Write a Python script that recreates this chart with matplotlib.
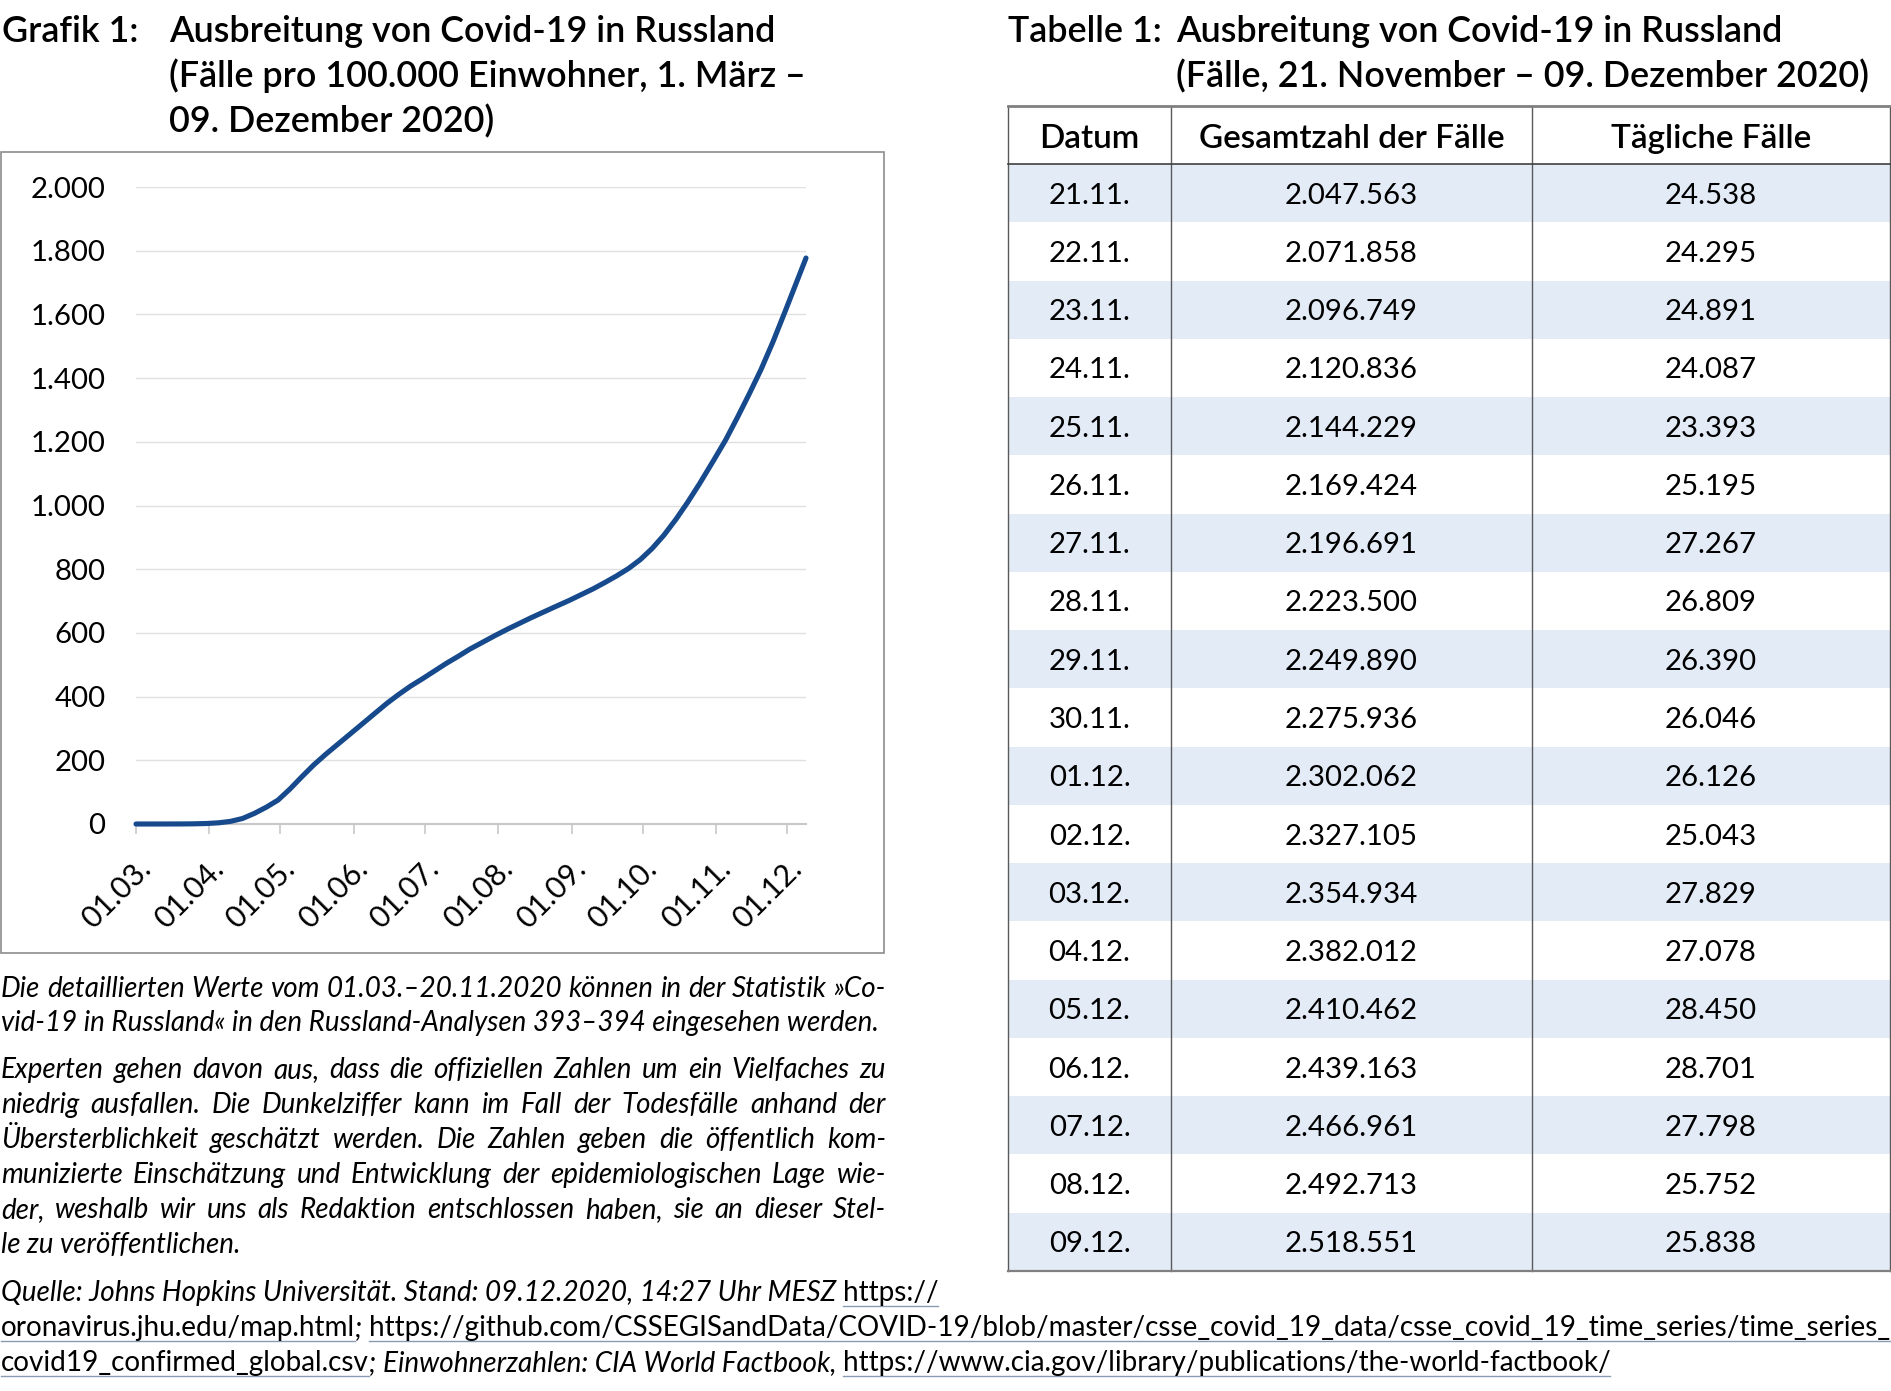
import datetime as dt
import matplotlib
matplotlib.use('Agg')
import matplotlib.pyplot as plt
from matplotlib import font_manager
from matplotlib.font_manager import FontProperties
from matplotlib.patches import Rectangle
from matplotlib.lines import Line2D

# ---------------- data ----------------
curve_dates = ["2020-03-01", "2020-03-10", "2020-03-20", "2020-03-25", "2020-03-31",
               "2020-04-05", "2020-04-10", "2020-04-15", "2020-04-20", "2020-04-25",
               "2020-04-30", "2020-05-05", "2020-05-10", "2020-05-15", "2020-05-20",
               "2020-05-25", "2020-05-31", "2020-06-05", "2020-06-10", "2020-06-15",
               "2020-06-20", "2020-06-25", "2020-06-30", "2020-07-05", "2020-07-10",
               "2020-07-15", "2020-07-20", "2020-07-25", "2020-07-31", "2020-08-05",
               "2020-08-10", "2020-08-15", "2020-08-20", "2020-08-25", "2020-08-31",
               "2020-09-05", "2020-09-10", "2020-09-15", "2020-09-20", "2020-09-25",
               "2020-09-30", "2020-10-05", "2020-10-10", "2020-10-15", "2020-10-20",
               "2020-10-25", "2020-10-31", "2020-11-05", "2020-11-10", "2020-11-15",
               "2020-11-20", "2020-11-25", "2020-11-30", "2020-12-05", "2020-12-09"]
cases_per_100k = [0.0, 0.0, 0.2, 0.5, 1.6,
                  3.8, 8.4, 17.3, 33.3, 52.6,
                  75.1, 109.6, 148, 185, 218,
                  249, 286, 317, 348, 379,
                  407, 433, 456, 480, 504,
                  526, 549, 569, 593, 612,
                  630, 648, 665, 682, 702,
                  720, 738, 758, 779, 802,
                  830, 865, 907, 956, 1010,
                  1068, 1142, 1205, 1276, 1350,
                  1427, 1513, 1606, 1701, 1777]
y_ticks = [0, 200, 400, 600, 800, 1000, 1200, 1400, 1600, 1800, 2000]
x_tick_dates = ["2020-03-01", "2020-04-01", "2020-05-01", "2020-06-01", "2020-07-01",
                "2020-08-01", "2020-09-01", "2020-10-01", "2020-11-01", "2020-12-01"]
x_tick_labels = ["01.03.", "01.04.", "01.05.", "01.06.", "01.07.",
                 "01.08.", "01.09.", "01.10.", "01.11.", "01.12."]

table_header = ["Datum", "Gesamtzahl der Fälle", "Tägliche Fälle"]
table_dates = ["21.11.", "22.11.", "23.11.", "24.11.", "25.11.", "26.11.", "27.11.",
               "28.11.", "29.11.", "30.11.", "01.12.", "02.12.", "03.12.", "04.12.",
               "05.12.", "06.12.", "07.12.", "08.12.", "09.12."]
table_total = ["2.047.563", "2.071.858", "2.096.749", "2.120.836", "2.144.229",
               "2.169.424", "2.196.691", "2.223.500", "2.249.890", "2.275.936",
               "2.302.062", "2.327.105", "2.354.934", "2.382.012", "2.410.462",
               "2.439.163", "2.466.961", "2.492.713", "2.518.551"]
table_daily = ["24.538", "24.295", "24.891", "24.087", "23.393", "25.195", "27.267",
               "26.809", "26.390", "26.046", "26.126", "25.043", "27.829", "27.078",
               "28.450", "28.701", "27.798", "25.752", "25.838"]

chart_title = ["Ausbreitung von Covid-19 in Russland",
               "(Fälle pro 100.000 Einwohner, 1. März –",
               "09. Dezember 2020)"]
table_title = ["Ausbreitung von Covid-19 in Russland",
               "(Fälle, 21. November – 09. Dezember 2020)"]
note_lines = [
    ("Die detaillierten Werte vom 01.03.–20.11.2020 können in der Statistik »Co-", True),
    ("vid-19 in Russland« in den Russland-Analysen 393–394 eingesehen werden.", False),
    ("Experten gehen davon aus, dass die offiziellen Zahlen um ein Vielfaches zu", True),
    ("niedrig ausfallen. Die Dunkelziffer kann im Fall der Todesfälle anhand der", True),
    ("Übersterblichkeit geschätzt werden. Die Zahlen geben die öffentlich kom-", True),
    ("munizierte Einschätzung und Entwicklung der epidemiologischen Lage wie-", True),
    ("der, weshalb wir uns als Redaktion entschlossen haben, sie an dieser Stel-", True),
    ("le zu veröffentlichen.", False),
]
source_lines = [
    [("Quelle: Johns Hopkins Universität. Stand: 09.12.2020, 14:27 Uhr MESZ", "italic", False),
     (" ", "italic", False), ("https://", "normal", True)],
    [("oronavirus.jhu.edu/map.html", "normal", True), (";", "italic", False), (" ", "italic", False),
     ("https://github.com/CSSEGISandData/COVID-19/blob/master/csse_covid_19_data/csse_covid_19_time_series/time_series_", "normal", True)],
    [("covid19_confirmed_global.csv", "normal", True), (";", "italic", False), (" ", "italic", False),
     ("Einwohnerzahlen: CIA World Factbook,", "italic", False), (" ", "italic", False),
     ("https://www.cia.gov/library/publications/the-world-factbook/", "normal", True)],
]

# ---------------- setup ----------------
W, H = 1891, 1391
names = {f.name for f in font_manager.fontManager.ttflist}
MAIN = 'Lato' if 'Lato' in names else 'DejaVu Sans'
plt.rcParams['font.family'] = [MAIN, 'DejaVu Sans']


def find_condensed(styles):
    prefs = ['Liberation Sans Narrow', 'Noto Sans', 'Open Sans', 'Roboto', 'Lato']
    for fam in prefs:
        for f in font_manager.fontManager.ttflist:
            if (f.name == fam and f.style in styles
                    and f.stretch in ('condensed', 'semi-condensed')
                    and f.weight in (400, 'normal', 'regular', 'book')):
                return f.fname
    return None


fn_it = find_condensed(('italic',))
fn_up = find_condensed(('normal',))
if fn_it and fn_up:
    italic_kw = dict(fontproperties=FontProperties(fname=fn_it))
    upright_kw = dict(fontproperties=FontProperties(fname=fn_up))
else:
    italic_kw = dict(family=[MAIN, 'DejaVu Sans'], style='italic')
    upright_kw = dict(family=[MAIN, 'DejaVu Sans'], style='normal')
style_kw = {'italic': italic_kw, 'normal': upright_kw}

fig = plt.figure(figsize=(W / 100, H / 100), dpi=100)
fig.patch.set_facecolor('white')
renderer = fig.canvas.get_renderer()

LINE_COLOR = '#174A8C'
ROW_BLUE = '#E3EBF6'


def T(x, y, s, **kw):
    return fig.text(x / W, 1 - y / H, s, **kw)


def measure(s, size, **kw):
    t = fig.text(0, 0, s, fontsize=size, **kw)
    w = t.get_window_extent(renderer).width
    t.remove()
    return w


def fit(s, target, **kw):
    return 20.0 * target / measure(s, 20.0, **kw)


# font sizes fitted to widths measured on the reference
title_kw = dict(family=[MAIN, 'DejaVu Sans'], weight='semibold')
fs_title = (fit(chart_title[0], 615, **title_kw) + fit(chart_title[1], 633, **title_kw)
            + fit(table_title[1], 687, **title_kw)) / 3
fs_head = fit(table_header[1], 306, **title_kw)
fs_body = fit(table_total[0], 133, family=[MAIN, 'DejaVu Sans'])
fs_tick = fit("2.000", 75, family=[MAIN, 'DejaVu Sans'])
fs_note = min(fit(s, 884, **italic_kw) for s, j in note_lines if j)

# ---------------- titles ----------------
for i, yb in enumerate([42, 87, 132]):
    T(169, yb, chart_title[i], fontsize=fs_title, va='baseline', **title_kw)
T(2, 42, "Grafik 1:", fontsize=fs_title, va='baseline', **title_kw)
T(1008, 42, "Tabelle 1:", fontsize=fs_title, va='baseline', **title_kw)
for i, yb in enumerate([42, 87]):
    T(1176, yb, table_title[i], fontsize=fs_title, va='baseline', **title_kw)

# ---------------- chart ----------------
fig.add_artist(Rectangle((1 / W, 1 - 953 / H), 883 / W, (953 - 152) / H,
                         transform=fig.transFigure, fill=False, ec='#8C8C8C', lw=1.2))
ax = fig.add_axes([136 / W, 1 - 824 / H, (806 - 136) / W, (824 - 187) / H])
xd = [dt.datetime.strptime(d, "%Y-%m-%d") for d in curve_dates]
ax.plot(xd, cases_per_100k, color=LINE_COLOR, lw=3.7, solid_capstyle='round',
        solid_joinstyle='round', zorder=3, clip_on=False)
ax.set_xlim(dt.datetime(2020, 3, 1), dt.datetime(2020, 12, 9))
ax.set_ylim(0, 2000)
ax.set_yticks(y_ticks)
ax.set_yticklabels([f"{v:,}".replace(',', '.') for v in y_ticks], fontsize=fs_tick)
ax.yaxis.grid(True, color='#E0E0E0', lw=1.0)
ax.set_axisbelow(True)
for s in ['top', 'right', 'left']:
    ax.spines[s].set_visible(False)
ax.spines['bottom'].set_color('#C8C8C8')
ax.spines['bottom'].set_linewidth(1.5)
ax.tick_params(axis='y', length=0, pad=22)
ax.set_xticks([dt.datetime.strptime(d, "%Y-%m-%d") for d in x_tick_dates])
ax.set_xticklabels(x_tick_labels, fontsize=fs_tick * 1.03, rotation=45, ha='right', va='top',
                   rotation_mode='anchor')
ax.tick_params(axis='x', length=7, width=1.2, color='#C8C8C8', pad=15)
ax.set_facecolor('none')

# ---------------- table ----------------
cols = [1008, 1171, 1532, 1890]
t_top, h_bot, t_bot = 106, 164, 1271
rh = (t_bot - h_bot) / len(table_dates)
for i in range(len(table_dates)):
    y0 = h_bot + i * rh
    if i % 2 == 0:
        fig.add_artist(Rectangle((cols[0] / W, 1 - (y0 + rh) / H), (cols[-1] - cols[0]) / W, rh / H,
                                 transform=fig.transFigure, fc=ROW_BLUE, ec='none', zorder=0))
    yc = y0 + rh / 2
    for j, val in enumerate([table_dates[i], table_total[i], table_daily[i]]):
        T((cols[j] + cols[j + 1]) / 2, yc, val, fontsize=fs_body, ha='center',
          va='center_baseline')
for j, hd in enumerate(table_header):
    T((cols[j] + cols[j + 1]) / 2, (t_top + h_bot) / 2 + 1, hd, fontsize=fs_head, ha='center',
      va='center_baseline', **title_kw)


def hline(y, x0, x1, color, lw):
    fig.add_artist(Line2D([x0 / W, x1 / W], [1 - y / H] * 2, transform=fig.transFigure,
                          color=color, lw=lw, zorder=2))


def vline(x, y0, y1, color, lw):
    fig.add_artist(Line2D([x / W] * 2, [1 - y0 / H, 1 - y1 / H], transform=fig.transFigure,
                          color=color, lw=lw, zorder=2))


for x in cols:
    vline(x, t_top, t_bot, '#5A5A5A', 1.0)
hline(t_top, cols[0], cols[-1], '#808080', 2.0)
hline(h_bot, cols[0], cols[-1], '#404040', 1.2)
hline(t_bot, cols[0], cols[-1], '#808080', 1.6)

# ---------------- notes ----------------
note_base = [997, 1031, 1078, 1113, 1148, 1183, 1218, 1253]


def justify(y, line, size, width, x0=1, **kw):
    words = line.split(' ')
    ws = [measure(w, size, **kw) for w in words]
    gap = (width - sum(ws)) / (len(words) - 1)
    x = x0
    for w, wd in zip(words, ws):
        T(x, y, w, fontsize=size, va='baseline', **kw)
        x += wd + gap


for (line, just), yb in zip(note_lines, note_base):
    if just:
        justify(yb, line, fs_note, 885, **italic_kw)
    else:
        T(1, yb, line, fontsize=fs_note, va='baseline', **italic_kw)

# ---------------- sources ----------------
src_base = [1301, 1336, 1371]


def seg_width(s, size, style):
    kw = style_kw[style]
    if s == " ":
        return measure("a a", size, **kw) - measure("aa", size, **kw)
    return measure(s, size, **kw)


tot2 = sum(seg_width(s, 20.0, st) for s, st, u in source_lines[1])
fs_src = 20.0 * 1888 / tot2
for parts, yb in zip(source_lines, src_base):
    x = 1
    for s, st, ul in parts:
        wd = seg_width(s, fs_src, st)
        if s != " ":
            T(x, yb, s, fontsize=fs_src, va='baseline', **style_kw[st])
        if ul:
            hline(yb + 5, x, x + wd, '#8A9AB5', 1.0)
        x += wd

fig.savefig('out.png', dpi=100)
